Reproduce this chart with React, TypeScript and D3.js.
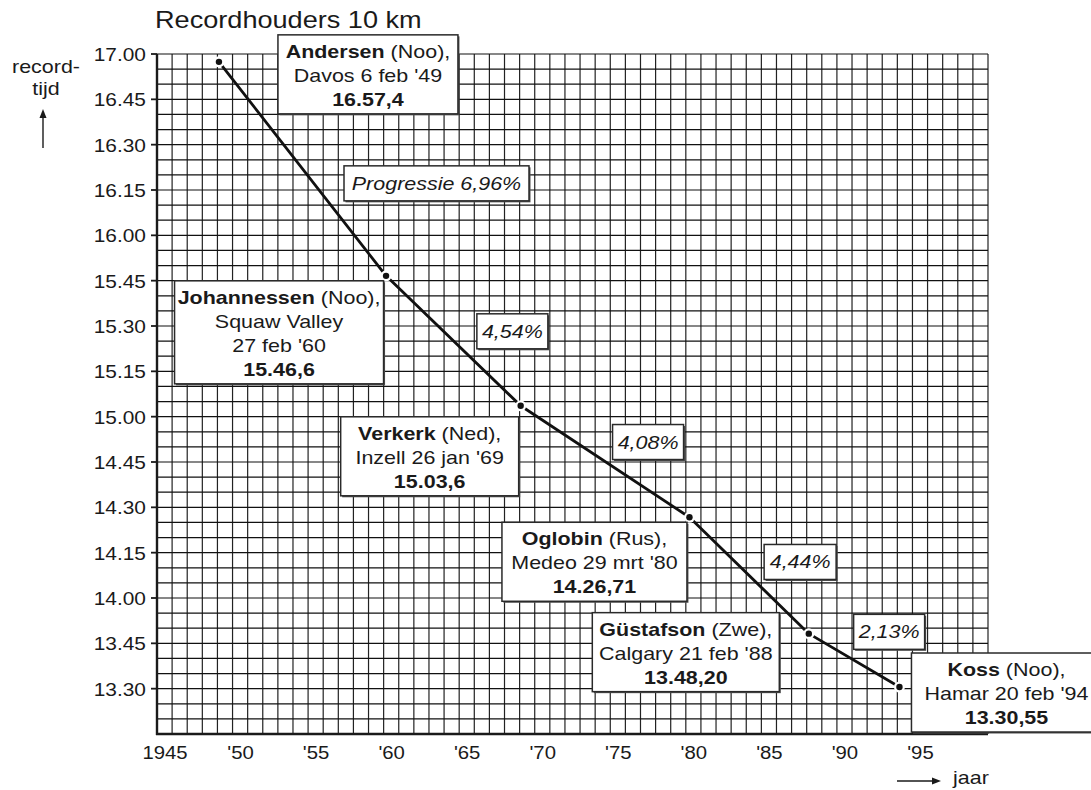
import React from "react";
import * as d3 from "d3";

// record holders, 10 km speed skating
const holders = ["Andersen", "Johannessen", "Verkerk", "Oglobin", "Güstafson", "Koss"];
const countries = ["Noo", "Noo", "Ned", "Rus", "Zwe", "Noo"];
const places = [
  ["Davos 6 feb '49"],
  ["Squaw Valley", "27 feb '60"],
  ["Inzell 26 jan '69"],
  ["Medeo 29 mrt '80"],
  ["Calgary 21 feb '88"],
  ["Hamar 20 feb '94"],
];
const recordLabels = ["16.57,4", "15.46,6", "15.03,6", "14.26,71", "13.48,20", "13.30,55"];
const recordSeconds = [1017.4, 946.6, 903.6, 866.71, 828.2, 810.55];
const recordYears = [1949.1, 1960.16, 1969.07, 1980.24, 1988.14, 1994.14];
const progression = ["Progressie 6,96%", "4,54%", "4,08%", "4,44%", "2,13%"];

const xTickYears = [1945, 1950, 1955, 1960, 1965, 1970, 1975, 1980, 1985, 1990, 1995];
const xTickLabels = ["1945", "'50", "'55", "'60", "'65", "'70", "'75", "'80", "'85", "'90", "'95"];
const yTickLabels = [
  "13.30", "13.45", "14.00", "14.15", "14.30", "14.45", "15.00", "15.15",
  "15.30", "15.45", "16.00", "16.15", "16.30", "16.45", "17.00",
];

// box layout relative to the record point: [dx of centre, dy of top, width]
const holderBoxes = [
  [149, -27, 180],
  [-107, 5, 209],
  [-91, 11, 178],
  [-95, 5, 185],
  [-123, -21, 187],
  [107, -34, 190],
];
// progression boxes relative to segment midpoint
const progBoxes = [
  [134, -3, 185],
  [59, -27, 71],
  [43, -37, 71],
  [51, -31, 72],
  [35, -46, 71],
];

const W = 1091;
const H = 790;
const SX = 1.13; // the lettering in the original is set wide
const FONT = "'Liberation Sans', Arial, Helvetica, sans-serif";
const INK = "#1a1a1a";

const toSec = (s: string) => {
  const [m, sec] = s.split(".");
  return +m * 60 + +sec;
};

const Txt = ({ x, y, size = 19, anchor = "middle", weight, italic, children }: any) => (
  <text
    transform={`translate(${x},${y}) scale(${SX},1)`}
    textAnchor={anchor}
    fontSize={size}
    fontWeight={weight}
    fontStyle={italic ? "italic" : undefined}
    fill={INK}
  >
    {children}
  </text>
);

const Box = ({ x, y, w, h }: any) => (
  <g>
    <rect x={x + 1.5} y={y + 1.5} width={w} height={h} fill="#505050" />
    <rect x={x} y={y} width={w} height={h} fill="#fff" stroke="#2a2a2a" strokeWidth={1.5} />
  </g>
);

export default function App() {
  const x = d3.scaleLinear().domain([1945, 2000]).range([157, 988]);
  const y = d3.scaleLinear().domain([795, 1020]).range([734, 54]);

  const pts = recordYears.map((yr, i) => [x(yr), y(recordSeconds[i])] as [number, number]);
  const line = d3.line()(pts) as string;

  const vGrid = d3.range(1945, 2001);
  const hGrid = d3.range(795, 1021, 5);

  return (
    <svg
      width={W}
      height={H}
      style={{ position: "absolute", left: 0, top: 0, background: "#fff" }}
      fontFamily={FONT}
    >
      <rect width={W} height={H} fill="#fff" />

      {/* grid */}
      {vGrid.map((v) => (
        <line key={"v" + v} x1={x(v)} x2={x(v)} y1={y(1020)} y2={y(795)} stroke="#222" strokeWidth={1.2} />
      ))}
      {hGrid.map((s) => (
        <line key={"h" + s} x1={x(1945)} x2={x(2000)} y1={y(s)} y2={y(s)} stroke="#111" strokeWidth={1.2} />
      ))}

      {/* axes */}
      <line x1={x(1945)} x2={x(1945)} y1={y(1020)} y2={y(795) + 1} stroke={INK} strokeWidth={2.4} />
      <line x1={x(1945) - 1} x2={x(2000)} y1={y(795)} y2={y(795)} stroke={INK} strokeWidth={2.4} />

      {yTickLabels.map((lab) => {
        const yy = y(toSec(lab));
        return (
          <g key={lab}>
            <line x1={x(1945) - 6} x2={x(1945)} y1={yy} y2={yy} stroke={INK} strokeWidth={1.8} />
            <Txt x={146} y={yy + 7} size={18.5} anchor="end">
              {lab}
            </Txt>
          </g>
        );
      })}

      {xTickYears.map((yr, i) => (
        <Txt key={yr} x={x(yr) + 8} y={759} size={18}>
          {xTickLabels[i]}
        </Txt>
      ))}

      {/* title and axis captions */}
      <Txt x={155} y={28} size={24} anchor="start">
        Recordhouders 10 km
      </Txt>
      <Txt x={46} y={73} size={19}>
        record-
      </Txt>
      <Txt x={46} y={95} size={19}>
        tijd
      </Txt>
      <line x1={43} x2={43} y1={148} y2={116} stroke={INK} strokeWidth={1.4} />
      <path d="M43,109 L39.5,118 L46.5,118 Z" fill={INK} />

      <line x1={897} x2={933} y1={781} y2={781} stroke={INK} strokeWidth={1.4} />
      <path d="M941,781 L932,777.5 L932,784.5 Z" fill={INK} />
      <Txt x={953} y={784} size={19} anchor="start">
        jaar
      </Txt>

      {/* record line */}
      <path d={line} fill="none" stroke="#111" strokeWidth={2.8} strokeLinejoin="round" />
      {pts.map(([px, py], i) => (
        <g key={"p" + i}>
          <circle cx={px} cy={py} r={5.5} fill="#fff" />
          <circle cx={px} cy={py} r={3.2} fill="#111" />
        </g>
      ))}

      {/* progression boxes */}
      {progression.map((lab, i) => {
        const mx = (pts[i][0] + pts[i + 1][0]) / 2;
        const my = (pts[i][1] + pts[i + 1][1]) / 2;
        const [dx, dy, w] = progBoxes[i];
        const top = my + dy;
        return (
          <g key={"pr" + i}>
            <Box x={mx + dx - w / 2} y={top} w={w} h={35} />
            <Txt x={mx + dx} y={top + 24} size={19} italic>
              {lab}
            </Txt>
          </g>
        );
      })}

      {/* record holder boxes */}
      {holders.map((name, i) => {
        const [px, py] = pts[i];
        const [dx, dy, w] = holderBoxes[i];
        const lines = places[i].length + 2;
        const h = lines * 24 + 7;
        const cx = px + dx;
        const top = py + dy;
        return (
          <g key={name}>
            <Box x={cx - w / 2} y={top} w={w} h={h} />
            <Txt x={cx} y={top + 23} size={19}>
              <tspan fontWeight="bold">{name}</tspan> ({countries[i]}),
            </Txt>
            {places[i].map((p, j) => (
              <Txt key={p} x={cx} y={top + 23 + 24 * (j + 1)} size={19}>
                {p}
              </Txt>
            ))}
            <Txt x={cx} y={top + 23 + 24 * (lines - 1)} size={19} weight="bold">
              {recordLabels[i]}
            </Txt>
          </g>
        );
      })}
    </svg>
  );
}
